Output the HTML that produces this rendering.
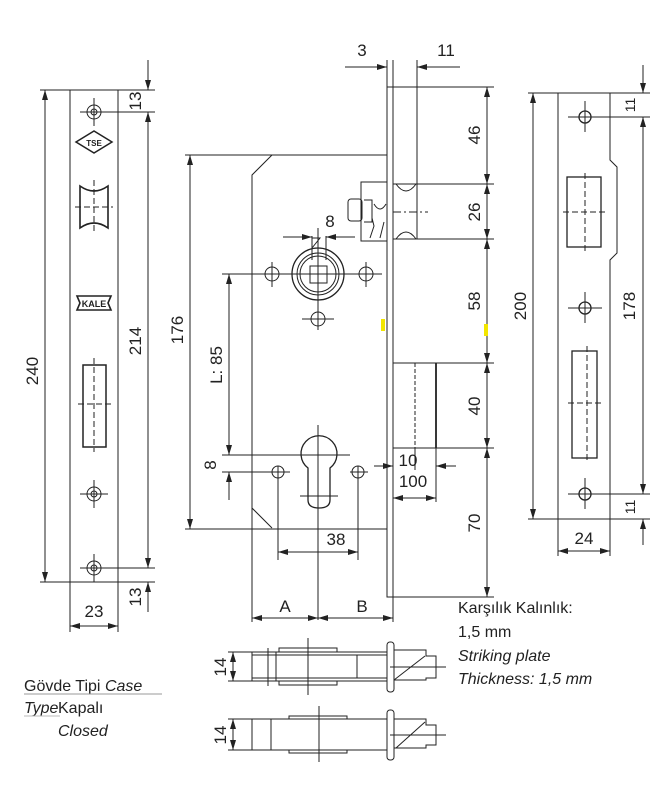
<!DOCTYPE html>
<html><head><meta charset="utf-8"><style>
html,body{margin:0;padding:0;background:#fff;}
svg{display:block;}
text{font-family:"Liberation Sans",sans-serif;fill:#222;}
</style></head><body>
<svg width="652" height="797" viewBox="0 0 652 797" xmlns="http://www.w3.org/2000/svg">
<defs>
<marker id="a" viewBox="0 0 10 6" refX="10" refY="3" markerWidth="10" markerHeight="6" orient="auto-start-reverse" markerUnits="userSpaceOnUse"><path d="M0,0 L10,3 L0,6 z" fill="#222"/></marker>
</defs>
<g stroke="#222" stroke-width="1" fill="none">
<!-- LEFT FACEPLATE -->
<rect x="70" y="90" width="48" height="492"/>
<line x1="40" y1="90" x2="70" y2="90"/><line x1="40" y1="582" x2="70" y2="582"/>
<line x1="45" y1="90" x2="45" y2="582" marker-start="url(#a)" marker-end="url(#a)"/>
<line x1="118" y1="90" x2="155" y2="90"/><line x1="118" y1="582" x2="155" y2="582"/>
<line x1="94" y1="112" x2="155" y2="112"/><line x1="94" y1="568" x2="155" y2="568"/>
<line x1="148" y1="60" x2="148" y2="90" marker-end="url(#a)"/>
<line x1="148" y1="112" x2="148" y2="568" marker-start="url(#a)" marker-end="url(#a)"/>
<line x1="148" y1="612" x2="148" y2="582" marker-end="url(#a)"/>
<line x1="70" y1="582" x2="70" y2="632"/><line x1="118" y1="582" x2="118" y2="632"/>
<line x1="70" y1="626" x2="118" y2="626" marker-start="url(#a)" marker-end="url(#a)"/>
<!-- screws -->
<g>
<circle cx="94" cy="112" r="7"/><circle cx="94" cy="112" r="3"/>
<line x1="80" y1="112" x2="108" y2="112"/><line x1="94" y1="98" x2="94" y2="126"/>
<circle cx="94" cy="494" r="7"/><circle cx="94" cy="494" r="3"/>
<line x1="80" y1="494" x2="108" y2="494"/><line x1="94" y1="480" x2="94" y2="508"/>
<circle cx="94" cy="568" r="7"/><circle cx="94" cy="568" r="3"/>
<line x1="80" y1="568" x2="108" y2="568"/><line x1="94" y1="554" x2="94" y2="582"/>
</g>
<!-- TSE diamond -->
<path d="M76,142 L94,131 L112,142 L94,153 z" stroke-width="1.5"/>
<!-- latch hole -->
<path d="M80,186 Q94,196 108,186 L108,228 Q94,218 80,228 z" stroke-width="1.6"/>
<line x1="75" y1="207" x2="113" y2="207" stroke-dasharray="6,3"/>
<line x1="94" y1="180" x2="94" y2="234" stroke-dasharray="6,3"/>
<!-- KALE -->
<path d="M77,296 L111,296 L108,303 L111,310 L77,310 L80,303 z" stroke-width="1.6"/>
<!-- deadbolt hole -->
<rect x="83" y="365" width="23" height="82" stroke-width="1.5"/>
<line x1="78" y1="404" x2="111" y2="404" stroke-dasharray="6,3"/>
<line x1="94" y1="358" x2="94" y2="452" stroke-dasharray="6,3"/>

<!-- MAIN CASE -->
<line x1="185" y1="155" x2="387" y2="155"/>
<path d="M272,155 L252,175 L252,508 L272,528"/>
<line x1="185" y1="529" x2="387" y2="529"/>
<line x1="190" y1="155" x2="190" y2="529" marker-start="url(#a)" marker-end="url(#a)"/>
<!-- faceplate -->
<rect x="387" y="87" width="6" height="510"/>
<line x1="393" y1="87" x2="494" y2="87"/>
<line x1="393" y1="597" x2="494" y2="597"/>
<line x1="487" y1="87" x2="487" y2="184" marker-start="url(#a)" marker-end="url(#a)"/>
<line x1="487" y1="184" x2="487" y2="239" marker-start="url(#a)" marker-end="url(#a)"/>
<line x1="487" y1="239" x2="487" y2="363" marker-start="url(#a)" marker-end="url(#a)"/>
<line x1="487" y1="363" x2="487" y2="448" marker-start="url(#a)" marker-end="url(#a)"/>
<line x1="487" y1="448" x2="487" y2="597" marker-start="url(#a)" marker-end="url(#a)"/>
<!-- 3 / 11 -->
<line x1="387" y1="60" x2="387" y2="87"/><line x1="393" y1="60" x2="393" y2="87"/><line x1="417" y1="60" x2="417" y2="184"/>
<line x1="345" y1="67" x2="387" y2="67" marker-end="url(#a)"/>
<line x1="460" y1="67" x2="417" y2="67" marker-end="url(#a)"/>
<!-- latch -->
<line x1="393" y1="184" x2="494" y2="184"/><line x1="393" y1="239" x2="494" y2="239"/>
<line x1="417" y1="184" x2="417" y2="239"/>
<path d="M396,184 Q406,198 416,184"/><path d="M396,239 Q406,225 416,239"/>
<line x1="393" y1="212" x2="428" y2="212" stroke-dasharray="8,3,2,3"/>
<rect x="361" y="182" width="26" height="59"/>
<rect x="348" y="199" width="14" height="22" rx="3"/>
<path d="M364,200 L372,200 L372,222 L364,222"/>
<path d="M374,204 Q380,214 386,204"/>
<path d="M370,238 L374,226 L372,218"/><path d="M380,238 L384,222"/>
<!-- spindle -->
<line x1="222" y1="274" x2="382" y2="274"/>
<line x1="318" y1="228" x2="318" y2="330"/>
<circle cx="318" cy="274" r="26" stroke-width="1.3"/>
<circle cx="318" cy="274" r="21"/>
<circle cx="318" cy="274" r="18"/>
<rect x="310" y="266" width="17" height="17"/>
<path d="M312,248 L320,238 L312,238 z"/>
<line x1="312" y1="236" x2="312" y2="260"/><line x1="326" y1="236" x2="326" y2="260"/>
<line x1="283" y1="237" x2="312" y2="237" marker-end="url(#a)"/>
<line x1="355" y1="237" x2="326" y2="237" marker-end="url(#a)"/>
<circle cx="272" cy="274" r="7"/><line x1="272" y1="262" x2="272" y2="287"/>
<circle cx="366" cy="274" r="7"/><line x1="366" y1="262" x2="366" y2="287"/>
<circle cx="318" cy="319" r="7"/><line x1="302" y1="319" x2="334" y2="319"/>
<!-- L:85 -->
<line x1="229" y1="274" x2="229" y2="455" marker-start="url(#a)" marker-end="url(#a)"/>
<line x1="222" y1="455" x2="350" y2="455"/>
<line x1="222" y1="472" x2="290" y2="472"/>
<line x1="229" y1="440" x2="229" y2="455" />
<line x1="229" y1="500" x2="229" y2="472" marker-end="url(#a)"/>
<!-- cylinder profile -->
<path d="M308,468 A18,18 0 1 1 330,468 L330,500 Q330,508 319,508 Q308,508 308,500 z" stroke-width="1.3"/>
<line x1="318" y1="425" x2="318" y2="620"/>
<line x1="300" y1="496" x2="338" y2="496"/>
<circle cx="278" cy="472" r="6"/><line x1="270" y1="472" x2="288" y2="472"/>
<circle cx="358" cy="472" r="6"/><line x1="350" y1="472" x2="368" y2="472"/>
<line x1="278" y1="466" x2="278" y2="560"/><line x1="358" y1="466" x2="358" y2="560"/>
<line x1="278" y1="552" x2="358" y2="552" marker-start="url(#a)" marker-end="url(#a)"/>
<!-- deadbolt -->
<line x1="393" y1="363" x2="494" y2="363"/><line x1="393" y1="448" x2="494" y2="448"/>
<line x1="436" y1="363" x2="436" y2="448" stroke-width="1.8"/>
<line x1="415" y1="363" x2="415" y2="448" stroke-dasharray="4,2"/>
<line x1="436" y1="448" x2="436" y2="502"/><line x1="415" y1="448" x2="415" y2="470"/>
<line x1="374" y1="466" x2="393" y2="466" marker-end="url(#a)"/>
<line x1="456" y1="466" x2="436" y2="466" marker-end="url(#a)"/>
<line x1="393" y1="498" x2="436" y2="498" marker-start="url(#a)" marker-end="url(#a)"/>
<!-- A/B -->
<line x1="252" y1="508" x2="252" y2="622"/><line x1="393" y1="597" x2="393" y2="622"/>
<line x1="252" y1="618" x2="318" y2="618" marker-start="url(#a)" marker-end="url(#a)"/>
<line x1="318" y1="618" x2="393" y2="618" marker-start="url(#a)" marker-end="url(#a)"/>

<!-- RIGHT STRIKE PLATE -->
<path d="M558,93 L610,93 L610,160 L617,167 L617,253 L610,260 L610,519 L558,519 z"/>
<line x1="528" y1="93" x2="558" y2="93"/><line x1="528" y1="519" x2="558" y2="519"/>
<line x1="533" y1="93" x2="533" y2="519" marker-start="url(#a)" marker-end="url(#a)"/>
<line x1="610" y1="93" x2="650" y2="93"/><line x1="610" y1="519" x2="650" y2="519"/>
<line x1="585" y1="117" x2="650" y2="117"/><line x1="585" y1="494" x2="650" y2="494"/>
<line x1="643" y1="65" x2="643" y2="93" marker-end="url(#a)"/>
<line x1="643" y1="117" x2="643" y2="494" marker-start="url(#a)" marker-end="url(#a)"/>
<line x1="643" y1="545" x2="643" y2="519" marker-end="url(#a)"/>
<line x1="558" y1="519" x2="558" y2="556"/><line x1="610" y1="519" x2="610" y2="556"/>
<line x1="558" y1="551" x2="610" y2="551" marker-start="url(#a)" marker-end="url(#a)"/>
<g stroke-width="1.3">
<circle cx="585" cy="117" r="6"/><circle cx="585" cy="308" r="6"/><circle cx="585" cy="494" r="6"/>
</g>
<line x1="568" y1="117" x2="602" y2="117"/><line x1="585" y1="101" x2="585" y2="132"/>
<line x1="568" y1="308" x2="602" y2="308"/><line x1="585" y1="292" x2="585" y2="323"/>
<line x1="568" y1="494" x2="602" y2="494"/><line x1="585" y1="478" x2="585" y2="509"/>
<rect x="567" y="177" width="34" height="70" stroke-width="1.3"/>
<line x1="563" y1="212" x2="605" y2="212" stroke-dasharray="6,3"/>
<line x1="585" y1="173" x2="585" y2="252" stroke-dasharray="6,3"/>
<rect x="572" y="351" width="25" height="107" stroke-width="1.3"/>
<line x1="568" y1="403" x2="601" y2="403" stroke-dasharray="6,3"/>
<line x1="587" y1="346" x2="587" y2="462" stroke-dasharray="6,3"/>

<!-- BOTTOM VIEW 1 -->
<line x1="252" y1="652" x2="387" y2="652"/><line x1="252" y1="681" x2="387" y2="681"/>
<line x1="252" y1="655" x2="387" y2="655"/><line x1="252" y1="678" x2="387" y2="678"/>
<line x1="252" y1="652" x2="252" y2="681"/><line x1="268" y1="648" x2="268" y2="686"/>
<line x1="276" y1="652" x2="276" y2="681"/><line x1="357" y1="655" x2="357" y2="678"/>
<path d="M279,652 L279,648 L337,648 L337,652"/><path d="M279,681 L279,685 L337,685 L337,681"/>
<line x1="308" y1="638" x2="308" y2="695"/>
<rect x="387" y="642" width="7" height="50" rx="3"/>
<path d="M394,650 L426,650 L426,656 L436,656 L436,678 L426,678 L426,680 L394,680"/>
<line x1="394" y1="680" x2="425" y2="656"/>
<line x1="390" y1="667" x2="446" y2="667"/>
<line x1="228" y1="652" x2="252" y2="652"/><line x1="228" y1="681" x2="252" y2="681"/>
<line x1="233" y1="652" x2="233" y2="681" marker-start="url(#a)" marker-end="url(#a)"/>
<!-- BOTTOM VIEW 2 -->
<line x1="252" y1="719" x2="387" y2="719"/><line x1="252" y1="750" x2="387" y2="750"/>
<line x1="252" y1="719" x2="252" y2="750"/><line x1="271" y1="719" x2="271" y2="750"/>
<path d="M289,719 L289,716 L347,716 L347,719"/><path d="M289,750 L289,753 L347,753 L347,750"/>
<line x1="319" y1="706" x2="319" y2="762"/>
<rect x="387" y="710" width="7" height="50" rx="3"/>
<path d="M394,719 L426,719 L426,725 L436,725 L436,745 L426,745 L426,748 L394,748"/>
<line x1="396" y1="748" x2="425" y2="722"/>
<line x1="390" y1="735" x2="446" y2="735"/>
<line x1="228" y1="719" x2="252" y2="719"/><line x1="228" y1="750" x2="252" y2="750"/>
<line x1="233" y1="719" x2="233" y2="750" marker-start="url(#a)" marker-end="url(#a)"/>
</g>
<rect x="381" y="319" width="4" height="12" fill="#f2e600"/>
<rect x="484" y="324" width="4" height="12" fill="#f2e600"/>
<g font-size="11" font-weight="bold" text-anchor="middle">
<text x="94" y="146" font-size="8">TSE</text>
<text x="94" y="307" font-size="9">KALE</text>
</g>
<!-- labels -->
<g font-size="17" text-anchor="middle">
<text transform="translate(38,371) rotate(-90)">240</text>
<text transform="translate(141,341) rotate(-90)">214</text>
<text transform="translate(141,101) rotate(-90)">13</text>
<text transform="translate(141,597) rotate(-90)">13</text>
<text x="94" y="617">23</text>
<text transform="translate(183,330) rotate(-90)">176</text>
<text x="362" y="56">3</text>
<text x="446" y="56">11</text>
<text transform="translate(480,135) rotate(-90)">46</text>
<text transform="translate(480,212) rotate(-90)">26</text>
<text transform="translate(480,301) rotate(-90)">58</text>
<text transform="translate(480,406) rotate(-90)">40</text>
<text transform="translate(480,523) rotate(-90)">70</text>
<text x="330" y="227">8</text>
<text transform="translate(222,365) rotate(-90)">L: 85</text>
<text transform="translate(216,465) rotate(-90)">8</text>
<text x="336" y="545">38</text>
<text x="408" y="466">10</text>
<text x="413" y="487">100</text>
<text x="285" y="612">A</text>
<text x="362" y="612">B</text>
<text transform="translate(526,306) rotate(-90)">200</text>
<text transform="translate(635,306) rotate(-90)">178</text>
<text transform="translate(635,105) rotate(-90)" font-size="14">11</text>
<text transform="translate(635,507) rotate(-90)" font-size="14">11</text>
<text x="584" y="544">24</text>
<text transform="translate(226,667) rotate(-90)">14</text>
<text transform="translate(226,735) rotate(-90)">14</text>
</g>
<g font-size="16">
<text x="458" y="613">Karşılık Kalınlık:</text>
<text x="458" y="637">1,5 mm</text>
<text x="458" y="661" font-style="italic">Striking plate</text>
<text x="458" y="684" font-style="italic">Thickness: 1,5 mm</text>
<text x="24" y="691">Gövde Tipi <tspan font-style="italic">Case</tspan></text>
<text x="24" y="713" font-style="italic">Type</text>
<text x="58" y="713">Kapalı</text>
<text x="58" y="736" font-style="italic">Closed</text>
</g>
<line x1="24" y1="694" x2="162" y2="694" stroke="#999" stroke-width="1"/>
<line x1="24" y1="716" x2="60" y2="716" stroke="#bbb" stroke-width="1"/>
</svg>
</body></html>
